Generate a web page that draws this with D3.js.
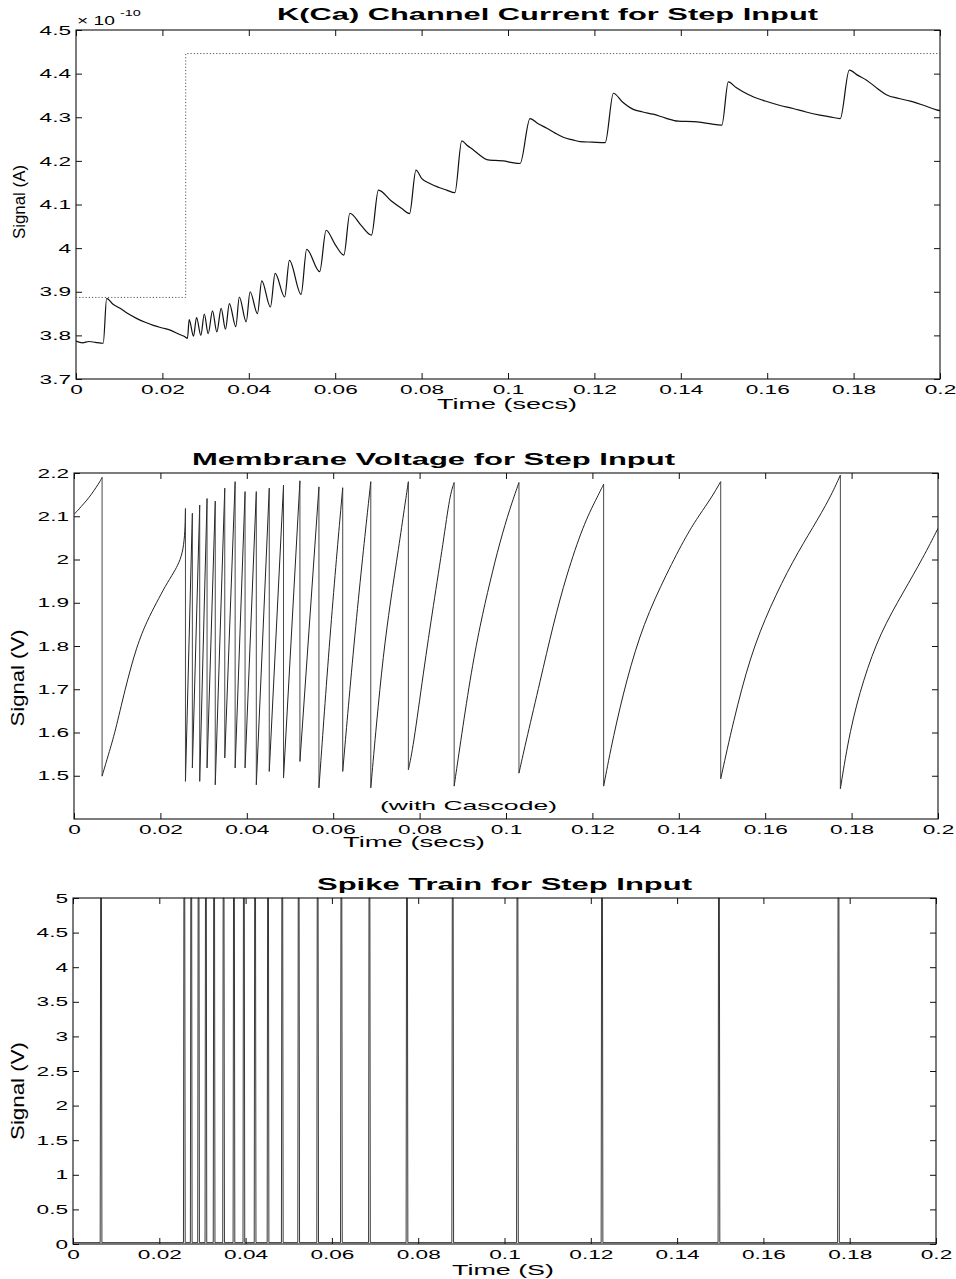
<!DOCTYPE html>
<html>
<head>
<meta charset="utf-8">
<script src="https://cdn.jsdelivr.net/npm/d3@7/dist/d3.min.js"></script>
<style>
  body { margin: 0; background: #fff; }
  svg { display: block; }
  text { font-family: "Liberation Sans", Arial, Helvetica, sans-serif; fill: #000; }
</style>
</head>
<body>
<svg id="fig" width="956" height="1279"></svg>
<script>
// ---------- tick values ----------
const timeTicks  = [0, 0.02, 0.04, 0.06, 0.08, 0.1, 0.12, 0.14, 0.16, 0.18, 0.2];
const kcaTicks   = [3.7, 3.8, 3.9, 4.0, 4.1, 4.2, 4.3, 4.4, 4.5];
const vmemTicks  = [1.5, 1.6, 1.7, 1.8, 1.9, 2.0, 2.1, 2.2];
const spikeTicks = [0, 0.5, 1, 1.5, 2, 2.5, 3, 3.5, 4, 4.5, 5];

// ---------- spike events (s) ----------
const spikeTimes = [0.0065, 0.0258, 0.0274, 0.0291, 0.0308, 0.0327, 0.0349, 0.0373,
                    0.0396, 0.0422, 0.0452, 0.0485, 0.0523, 0.0567, 0.0622, 0.0687,
                    0.0774, 0.0880, 0.1030, 0.1226, 0.1497, 0.1774];

// membrane voltage just before (peak) and just after (reset) each spike, V
const vPeak  = [2.190, 2.118, 2.107, 2.126, 2.141, 2.135, 2.165, 2.180, 2.157, 2.157, 2.165,
                2.172, 2.182, 2.168, 2.166, 2.180, 2.180, 2.178, 2.178, 2.174, 2.180, 2.195];
const vReset = [1.499, 1.487, 1.518, 1.487, 1.518, 1.479, 1.541, 1.518, 1.518, 1.479, 1.510,
                1.495, 1.533, 1.472, 1.510, 1.472, 1.514, 1.476, 1.506, 1.476, 1.493, 1.470];

// membrane voltage before the first spike
const vStart = [[0, 2.105], [0.0008, 2.112], [0.0016, 2.122], [0.0028, 2.135],
                [0.0040, 2.150], [0.0052, 2.168], [0.0060, 2.180]];

// recharge samples between a reset and the following peak (empty = straight ramp)
const vRecharge = [
  [[0.0080, 1.550], [0.0095, 1.600], [0.0118, 1.700], [0.0145, 1.800], [0.0170, 1.860],
   [0.0191, 1.900], [0.0212, 1.940], [0.0230, 1.968], [0.0256, 2.015]],
  [], [], [], [], [], [], [], [], [], [], [], [],
  [[0.0594, 1.850]],
  [[0.0654, 1.876]],
  [[0.0700, 1.620], [0.0716, 1.780], [0.0732, 1.900], [0.0752, 2.030], [0.0765, 2.120]],
  [[0.0785, 1.564], [0.0809, 1.741], [0.0832, 1.895], [0.0855, 2.041], [0.0870, 2.149]],
  [[0.0894, 1.572], [0.0917, 1.726], [0.0940, 1.849], [0.0963, 1.949], [0.0986, 2.041], [0.1009, 2.118]],
  [[0.1048, 1.587], [0.1079, 1.718], [0.1109, 1.849], [0.1140, 1.964], [0.1179, 2.080], [0.1210, 2.142]],
  [[0.1248, 1.590], [0.1279, 1.722], [0.1318, 1.852], [0.1372, 1.968], [0.1418, 2.057],
   [0.1449, 2.105], [0.1475, 2.142]],
  [[0.1526, 1.625], [0.1565, 1.776], [0.1611, 1.891], [0.1665, 1.999], [0.1711, 2.075], [0.1750, 2.142]],
  [[0.1796, 1.606], [0.1827, 1.722], [0.1866, 1.830], [0.1920, 1.925], [0.1966, 2.005], [0.2000, 2.072]]
];

// K(Ca) channel current (units of 1e-10 A)
const kcaCurrent = [
  [0, 3.787], [0.0015, 3.783], [0.0030, 3.786], [0.0045, 3.784], [0.0063, 3.782],
  [0.0071, 3.885], [0.0085, 3.872], [0.0102, 3.862], [0.0120, 3.850], [0.0140, 3.839],
  [0.0160, 3.830], [0.0179, 3.823], [0.0200, 3.817], [0.0218, 3.812], [0.0240, 3.802],
  [0.0252, 3.797], [0.0258, 3.793],
  [0.0262, 3.836], [0.0272, 3.798], [0.0279, 3.841], [0.0289, 3.800], [0.0297, 3.849],
  [0.0306, 3.804], [0.0316, 3.856], [0.0326, 3.808], [0.0336, 3.862], [0.0346, 3.814],
  [0.0355, 3.873], [0.0370, 3.820], [0.0378, 3.888], [0.0394, 3.831], [0.0403, 3.900],
  [0.0420, 3.850], [0.0430, 3.925], [0.0450, 3.865], [0.0461, 3.942], [0.0483, 3.888],
  [0.0494, 3.972], [0.0521, 3.894], [0.0534, 3.997], [0.0564, 3.946], [0.0579, 4.041],
  [0.0600, 4.008], [0.0620, 3.984], [0.0634, 4.080], [0.0660, 4.052], [0.0684, 4.030],
  [0.0700, 4.133], [0.0730, 4.108], [0.0755, 4.090], [0.0772, 4.079],
  [0.0787, 4.179], [0.0800, 4.160], [0.0819, 4.148], [0.0840, 4.139], [0.0858, 4.133], [0.0877, 4.127],
  [0.0893, 4.246], [0.0905, 4.236], [0.0920, 4.225], [0.0935, 4.213], [0.0951, 4.203],
  [0.0970, 4.201], [0.0989, 4.200], [0.1010, 4.196], [0.1028, 4.194],
  [0.1051, 4.297], [0.1070, 4.285], [0.1090, 4.275], [0.1110, 4.263], [0.1128, 4.254],
  [0.1150, 4.248], [0.1167, 4.244], [0.1195, 4.243], [0.1225, 4.242],
  [0.1244, 4.355], [0.1265, 4.335], [0.1290, 4.318], [0.1312, 4.312], [0.1336, 4.307],
  [0.1365, 4.298], [0.1394, 4.291], [0.1429, 4.290], [0.1462, 4.286], [0.1495, 4.282],
  [0.1510, 4.381], [0.1528, 4.368], [0.1545, 4.358], [0.1570, 4.346], [0.1599, 4.336],
  [0.1630, 4.327], [0.1660, 4.320], [0.1690, 4.312], [0.1722, 4.305], [0.1745, 4.301], [0.1769, 4.297],
  [0.1790, 4.408], [0.1810, 4.396], [0.1830, 4.385], [0.1855, 4.366], [0.1877, 4.351],
  [0.1905, 4.343], [0.1931, 4.337], [0.1960, 4.328], [0.1992, 4.317], [0.2000, 4.315]
];

// input step, drawn on the current axes
const stepInput = [[0, 3.887], [0.0254, 3.887], [0.0254, 4.446], [0.2, 4.446]];

// spike train levels
const spikeHigh = 5;
const spikeLow = 0.02;

// ---------- drawing ----------
const svg = d3.select("#fig");
svg.append("rect").attr("width", 956).attr("height", 1279).attr("fill", "#fff");

const SX = 1.74;          // horizontal stretch of the figure's lettering
const fmtT = d => String(+d.toFixed(2));
const fmtV = d => String(+d.toFixed(1));

function stretchText(g, x, y, str, opt) {
  return g.append("text")
    .attr("transform", `translate(${x},${y}) scale(${opt.sx || SX},1)`)
    .attr("text-anchor", opt.anchor || "middle")
    .attr("font-size", opt.size)
    .attr("font-weight", opt.weight || "normal")
    .text(str);
}

function frame(box, xDomain, yDomain, yTicks, yFmt) {
  const x = d3.scaleLinear().domain(xDomain).range([box.left, box.right]);
  const y = d3.scaleLinear().domain(yDomain).range([box.bottom, box.top]);
  const g = svg.append("g");
  const tick = 6;

  const bottom = g.append("g").attr("transform", `translate(0,${box.bottom})`)
    .call(d3.axisBottom(x).tickValues(timeTicks).tickFormat(fmtT)
      .tickSizeInner(-tick).tickSizeOuter(0).tickPadding(6));
  const top = g.append("g").attr("transform", `translate(0,${box.top})`)
    .call(d3.axisTop(x).tickValues(timeTicks).tickFormat("")
      .tickSizeInner(-tick).tickSizeOuter(0));
  const left = g.append("g").attr("transform", `translate(${box.left},0)`)
    .call(d3.axisLeft(y).tickValues(yTicks).tickFormat(yFmt)
      .tickSizeInner(-tick).tickSizeOuter(0).tickPadding(5 / SX));
  const right = g.append("g").attr("transform", `translate(${box.right},0)`)
    .call(d3.axisRight(y).tickValues(yTicks).tickFormat("")
      .tickSizeInner(-tick).tickSizeOuter(0));

  [bottom, top, left, right].forEach(a => {
    a.select(".domain").remove();
    a.selectAll("line").attr("stroke", "#111").attr("stroke-width", 1);
    a.selectAll("text")
      .attr("font-family", '"Liberation Sans", Arial, sans-serif')
      .attr("font-size", 13).attr("fill", "#000")
      .attr("transform", `scale(${SX},1)`);
  });

  g.append("rect")
    .attr("x", box.left).attr("y", box.top)
    .attr("width", box.right - box.left).attr("height", box.bottom - box.top)
    .attr("fill", "none").attr("stroke", "#111").attr("stroke-width", 1.1);

  const clipId = "clip" + Math.round(box.top);
  svg.append("clipPath").attr("id", clipId).append("rect")
    .attr("x", box.left).attr("y", box.top - 1)
    .attr("width", box.right - box.left).attr("height", box.bottom - box.top + 2);
  const plot = svg.append("g").attr("clip-path", `url(#${clipId})`);
  return { x, y, g, plot };
}

function yLabel(cx, cy, str, size, len) {
  svg.append("text")
    .attr("transform", `translate(${cx},${cy}) rotate(-90)`)
    .attr("text-anchor", "middle")
    .attr("font-size", size)
    .attr("textLength", len).attr("lengthAdjust", "spacingAndGlyphs")
    .text(str);
}

function fitText(x0, x1, baseline, str, size, weight) {
  svg.append("text")
    .attr("x", x0).attr("y", baseline)
    .attr("font-size", size).attr("font-weight", weight || "normal")
    .attr("textLength", x1 - x0).attr("lengthAdjust", "spacingAndGlyphs")
    .text(str);
}

// ===== Panel 1: K(Ca) channel current =====
const p1 = frame({ left: 76, right: 940, top: 30, bottom: 379 }, [0, 0.2], [3.7, 4.5], kcaTicks, fmtV);
const stepLine = d3.line().x(d => p1.x(d[0])).y(d => p1.y(d[1]));
const kcaLine = d3.line().curve(d3.curveMonotoneX).x(d => p1.x(d[0])).y(d => p1.y(d[1]));
p1.plot.append("path").datum(stepInput).attr("d", stepLine)
  .attr("fill", "none").attr("stroke", "#555").attr("stroke-width", 1)
  .attr("stroke-dasharray", "1.2,2");
p1.plot.append("path").datum(kcaCurrent).attr("d", kcaLine)
  .attr("fill", "none").attr("stroke", "#111").attr("stroke-width", 1.2);

fitText(277, 818, 20, "K(Ca) Channel Current for Step Input", 16, "bold");
fitText(437, 577, 409, "Time (secs)", 14);
yLabel(25, 202, "Signal (A)", 17, 74);
// exponent marker
stretchText(svg, 77, 25, "× 10", { size: 12, anchor: "start", sx: 1.6 });
stretchText(svg, 120, 16, "-10", { size: 9, anchor: "start", sx: 1.6 });

// ===== Panel 2: membrane voltage =====
const p2 = frame({ left: 74, right: 938, top: 473, bottom: 819 }, [0, 0.2], [1.4, 2.2], vmemTicks, fmtV);
const rampLine = d3.line().curve(d3.curveBasis).x(d => p2.x(d[0])).y(d => p2.y(d[1]));
// charging ramps: from each reset up to the next peak
const ramps = [vStart.concat([[spikeTimes[0], vPeak[0]]])];
spikeTimes.forEach((t, i) => {
  const seg = [[t, vReset[i]]].concat(vRecharge[i]);
  if (i + 1 < spikeTimes.length) seg.push([spikeTimes[i + 1], vPeak[i + 1]]);
  ramps.push(seg);
});
p2.plot.selectAll("path.ramp").data(ramps).join("path").attr("class", "ramp")
  .attr("d", rampLine)
  .attr("fill", "none").attr("stroke", "#222").attr("stroke-width", 1);
// discharge at each spike
p2.plot.selectAll("line.reset").data(spikeTimes).join("line").attr("class", "reset")
  .attr("x1", d => p2.x(d)).attr("x2", d => p2.x(d))
  .attr("y1", (d, i) => p2.y(vPeak[i])).attr("y2", (d, i) => p2.y(vReset[i]))
  .attr("stroke", "#333").attr("stroke-width", 0.9);

fitText(192, 675, 465, "Membrane Voltage for Step Input", 16, "bold");
fitText(343, 485, 847, "Time (secs)", 14);
fitText(380, 557, 810, "(with Cascode)", 13);
yLabel(24, 678, "Signal (V)", 19, 97);

// ===== Panel 3: spike train =====
const p3 = frame({ left: 73, right: 936, top: 898, bottom: 1244 }, [0, 0.2], [0, 5], spikeTicks, d => String(d));
const sTrace = [[0, spikeLow]];
spikeTimes.forEach(t => {
  sTrace.push([t - 0.0002, spikeLow]);
  sTrace.push([t - 0.0001, spikeHigh]);
  sTrace.push([t + 0.0001, spikeHigh]);
  sTrace.push([t + 0.0002, spikeLow]);
});
sTrace.push([0.2, spikeLow]);
const line3 = d3.line().x(d => p3.x(d[0])).y(d => p3.y(d[1]));
p3.plot.append("path").datum(sTrace).attr("d", line3)
  .attr("fill", "none").attr("stroke", "#222").attr("stroke-width", 0.9);

fitText(317, 692, 890, "Spike Train for Step Input", 16, "bold");
fitText(452, 554, 1275, "Time (S)", 14);
yLabel(24, 1091, "Signal (V)", 19, 98);
</script>
</body>
</html>
